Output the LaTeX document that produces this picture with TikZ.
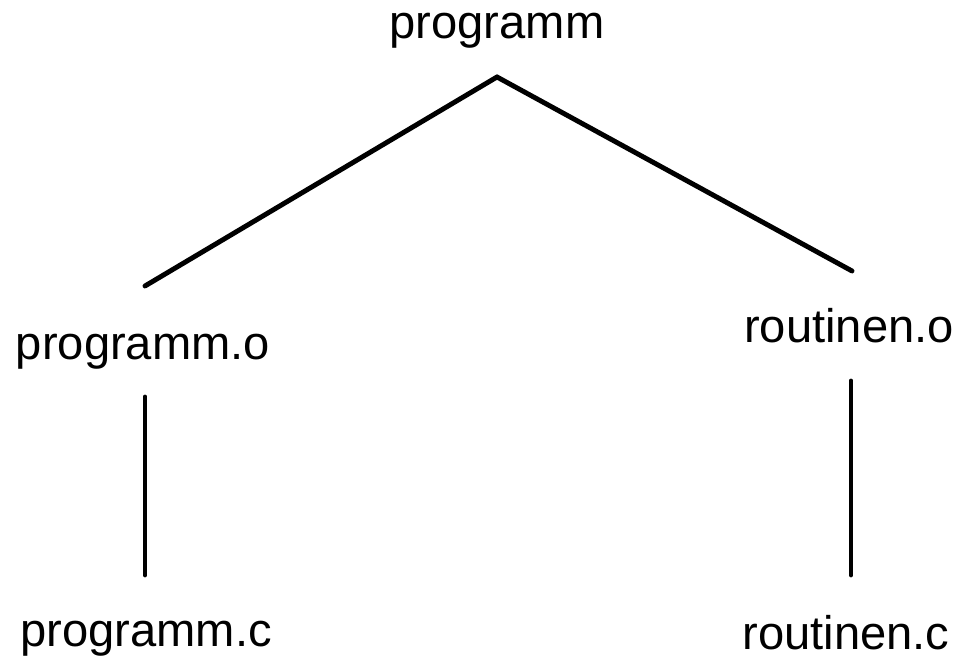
\documentclass[tikz,border=0pt]{standalone}
\usepackage{fontspec}
\setmainfont{Liberation Sans}
\usetikzlibrary{calc}
\tikzset{
  filenode/.style = {inner sep=0pt, anchor=base, font=\fontsize{13.4}{16}\selectfont},
  deplink/.style  = {draw=black, line width=1.4pt, line cap=round},
}

\begin{document}
\begin{tikzpicture}[x=0.01cm, y=-0.01cm]
  \useasboundingbox (0,0) rectangle (961,659);

  \node[filenode] (prog)  at (497,39)  {programm};
  \node[filenode] (progo) at (143,360) {programm.o};
  \node[filenode] (routo) at (849,343) {routinen.o};
  \node[filenode] (progc) at (146,647) {programm.c};
  \node[filenode] (routc) at (846,650) {routinen.c};

  % link lines stop short of the file names
  \draw[deplink] ($(prog.base)+(0,38)$)  -- ($(progo.base)+(2,-74)$);
  \draw[deplink] ($(prog.base)+(0,38)$)  -- ($(routo.base)+(3,-72)$);
  \draw[deplink] ($(progo.base)+(2,37)$) -- ($(progc.base)+(-1,-72)$);
  \draw[deplink] ($(routo.base)+(2,38)$) -- ($(routc.base)+(5,-75)$);
\end{tikzpicture}
\end{document}
